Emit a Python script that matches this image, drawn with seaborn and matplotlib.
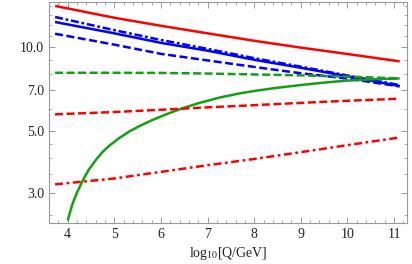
import numpy as np
import pandas as pd
import matplotlib
matplotlib.use("Agg")
import matplotlib.pyplot as plt
import matplotlib.ticker as mticker
import seaborn as sns

# common grid for most curves
x_grid = [3.73, 5.0, 6.0, 7.0, 8.0, 9.0, 10.0, 11.12]

red_solid = [14.05, 12.74, 11.92, 11.2, 10.53, 9.95, 9.44, 8.88]
blue_dashdot = [12.82, 11.5, 10.6, 9.85, 9.12, 8.5, 7.9, 7.3]
blue_solid = [12.3, 11.2, 10.35, 9.7, 9.0, 8.42, 7.85, 7.24]
blue_dashed = [11.16, 10.2, 9.45, 8.95, 8.48, 8.05, 7.7, 7.22]
green_dashed = [8.08, 8.08, 8.07, 8.03, 7.97, 7.91, 7.83, 7.71]
red_dashed = [5.73, 5.84, 5.95, 6.07, 6.18, 6.3, 6.41, 6.52]
red_dashdot = [3.21, 3.37, 3.56, 3.76, 3.96, 4.19, 4.44, 4.73]

# green solid curve starts later and bends strongly
x_green = [4.0, 4.1, 4.2, 4.33, 4.45, 4.6, 4.75, 4.9, 5.1, 5.33, 5.55, 5.8, 6.1,
           6.41, 6.8, 7.27, 7.7, 8.05, 8.5, 9.0, 9.5, 9.97, 10.5, 11.12]
green_solid = [2.38, 2.72, 3.0, 3.33, 3.62, 3.92, 4.2, 4.43, 4.7, 4.98, 5.21, 5.45, 5.72,
               5.98, 6.28, 6.59, 6.82, 6.97, 7.14, 7.3, 7.45, 7.57, 7.65, 7.71]

y_ticks = [3.0, 5.0, 7.0, 10.0]
y_minor = [2.5, 3.5, 4.0, 4.5, 6.0, 8.0, 9.0, 11.0, 12.0, 13.0, 14.0]
x_ticks = [4, 5, 6, 7, 8, 9, 10, 11]

sns.set_style("ticks")
plt.rcParams['font.family'] = ['Liberation Serif', 'DejaVu Serif']
plt.rcParams['mathtext.fontset'] = 'stix'

fig = plt.figure(figsize=(4.12, 2.64), dpi=100)
ax = fig.add_axes([0.119, 0.155, 0.868, 0.837])

RED, BLUE, GREEN = '#ff0000', '#0000ff', '#13a013'
lw = 1.8

series = [
    (x_grid, red_solid, RED, None),
    (x_grid, blue_dashdot, BLUE, (3.2, 1.1, 1.1, 1.1)),
    (x_grid, blue_solid, BLUE, None),
    (x_grid, blue_dashed, BLUE, (3.2, 1.4)),
    (x_grid, green_dashed, GREEN, (3.2, 1.4)),
    (x_green, green_solid, GREEN, None),
    (x_grid, red_dashed, RED, (3.2, 1.4)),
    (x_grid, red_dashdot, RED, (3.2, 1.4, 1.1, 1.4)),
]
for xs, ys, col, dash in series:
    df = pd.DataFrame({'x': xs, 'y': ys})
    sns.lineplot(data=df, x='x', y='y', color=col, lw=lw, ax=ax)
    l = ax.lines[-1]
    if dash is not None:
        l.set_dashes(dash)
    l.set_solid_capstyle('butt')
    l.set_solid_joinstyle('round')

ax.set_yscale('log')
ax.set_xlim(3.6, 11.27)
ax.set_ylim(2.33, 14.5)
ax.yaxis.set_major_locator(mticker.FixedLocator(y_ticks))
ax.yaxis.set_major_formatter(mticker.FixedFormatter([f"{v:.1f}" for v in y_ticks]))
ax.yaxis.set_minor_locator(mticker.FixedLocator(y_minor))
ax.yaxis.set_minor_formatter(mticker.NullFormatter())
ax.xaxis.set_major_locator(mticker.FixedLocator(x_ticks))
ax.xaxis.set_minor_locator(mticker.MultipleLocator(0.2))

frame = '#999999'
for s in ax.spines.values():
    s.set_color(frame)
    s.set_linewidth(0.8)
ax.tick_params(which='both', direction='in', top=True, right=True, color=frame,
               labelsize=10, labelcolor='#222222')
ax.tick_params(which='major', length=4, width=0.7)
ax.tick_params(which='minor', length=2, width=0.6)

ax.set_xlabel(r"log$_{10}$[Q/GeV]", fontsize=10, color='#222222', labelpad=3)
ax.set_ylabel('')

fig.savefig('out.png', dpi=100)
